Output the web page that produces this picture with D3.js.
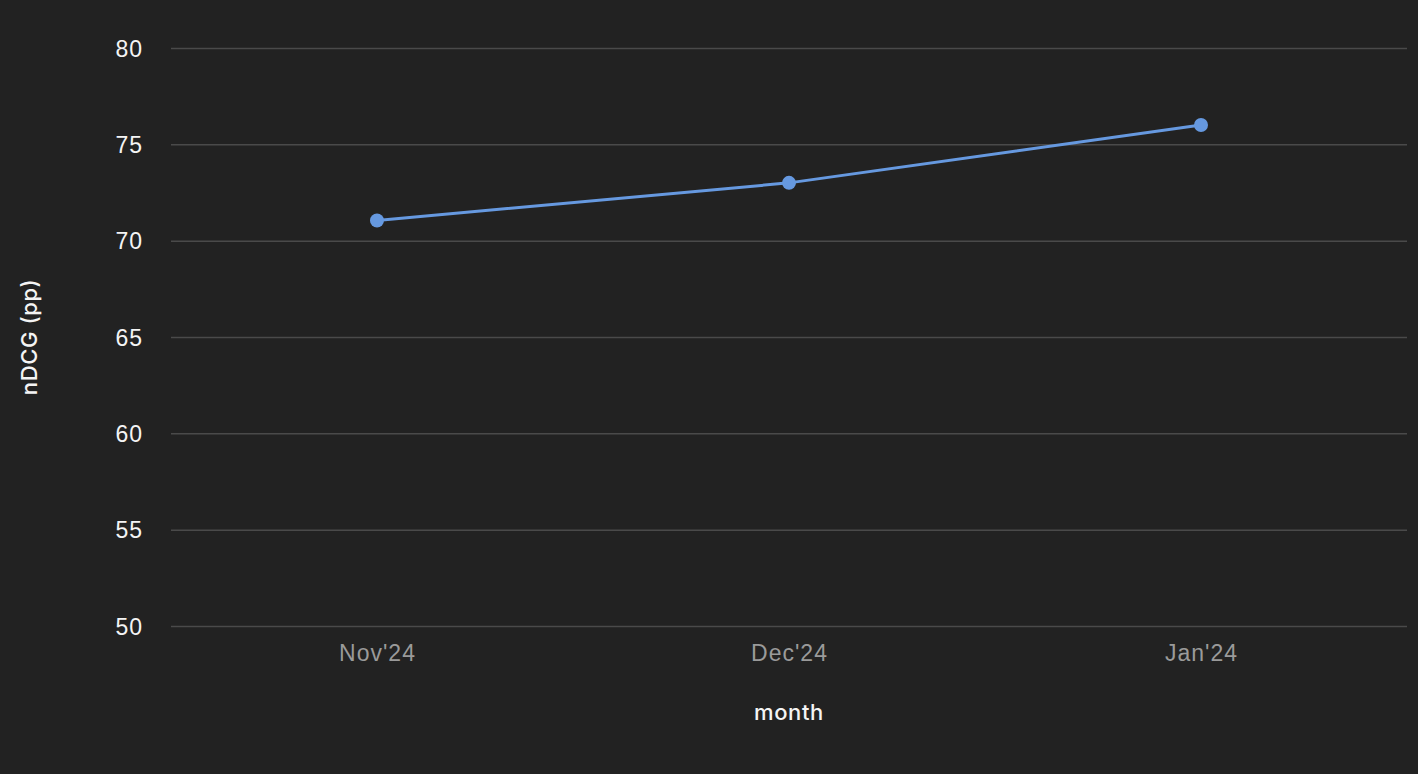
<!DOCTYPE html>
<html><head><meta charset="utf-8">
<script src="https://cdn.jsdelivr.net/npm/d3@7"></script>
<style>
html,body{margin:0;padding:0;background:#222222;}
svg{display:block;font-family:Inter, "Noto Sans", sans-serif;}
</style></head>
<body>
<svg id="chart" width="1418" height="774"></svg>
<script>
const categories = ["Nov'24", "Dec'24", "Jan'24"];
const values = [71.05, 73.0, 76.0];
const yTicks = [50, 55, 60, 65, 70, 75, 80];

const W = 1418, H = 774;
const m = {left: 171, right: 11, top: 48, bottom: 148};
const FS = 22, LS = "0.6px";
const svg = d3.select("#chart");
svg.append("rect").attr("width", W).attr("height", H).attr("fill", "#222222");

const x = d3.scalePoint().domain(categories).range([m.left, W - m.right]).padding(0.5);
const y = d3.scaleLinear().domain([50, 80]).range([H - m.bottom, m.top]);

const yAxis = svg.append("g").attr("transform", `translate(${m.left},0)`)
  .call(d3.axisLeft(y).tickValues(yTicks).tickSize(-(W - m.left - m.right)).tickPadding(28));
yAxis.select(".domain").remove();
yAxis.selectAll(".tick line").attr("stroke", "#4a4a4a").attr("stroke-width", 1.5);
yAxis.selectAll(".tick text").attr("fill", "#f4f4f4").attr("font-size", 23).attr("font-weight", 500)
  .attr("letter-spacing", "1px").attr("dy", "0.36em");

const xAxis = svg.append("g").attr("transform", `translate(0,${H - m.bottom})`)
  .call(d3.axisBottom(x).tickSize(0).tickPadding(19));
xAxis.select(".domain").remove();
xAxis.selectAll(".tick text").attr("fill", "#9a9a9a").attr("font-size", 23).attr("font-weight", 500)
  .attr("letter-spacing", "1px");

const line = d3.line().x((d, i) => x(categories[i])).y(d => y(d));
svg.append("path").datum(values).attr("d", line).attr("fill", "none")
  .attr("stroke", "#6699e0").attr("stroke-width", 3);
svg.selectAll("circle.pt").data(values).join("circle").attr("class", "pt")
  .attr("cx", (d, i) => x(categories[i])).attr("cy", d => y(d)).attr("r", 7)
  .attr("fill", "#6699e0");

svg.append("text").attr("x", 789).attr("y", 720)
  .attr("text-anchor", "middle").attr("fill", "#f4f4f4").attr("font-size", FS).attr("font-weight", 500)
  .attr("letter-spacing", LS).text("month");
svg.append("text").attr("transform", `translate(37,337) rotate(-90)`)
  .attr("text-anchor", "middle").attr("fill", "#f4f4f4").attr("font-size", FS).attr("font-weight", 500)
  .attr("letter-spacing", LS).text("nDCG (pp)");
</script>
</body></html>
